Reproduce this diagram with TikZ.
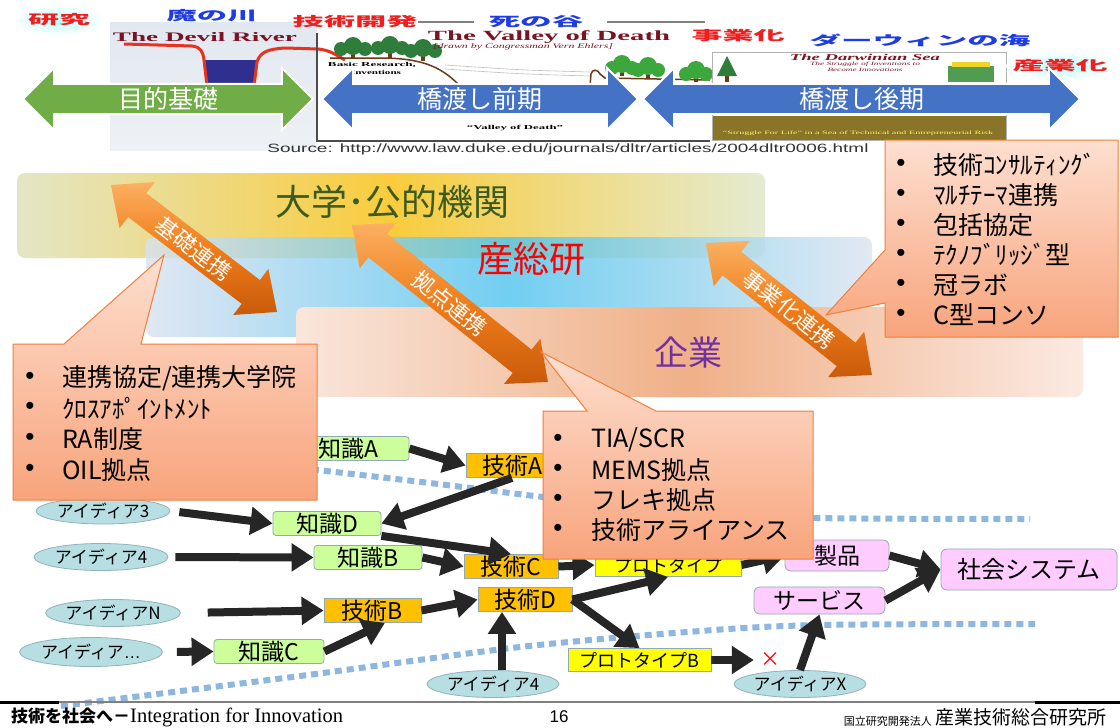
\documentclass[tikz,border=0pt]{standalone}
\usepackage{fontspec}
\usepackage{graphicx}
\setmainfont{Noto Sans CJK JP}
\newfontfamily\latinserif{Liberation Serif}
\newfontfamily\latinsans{Liberation Sans}
\usetikzlibrary{shapes.geometric,shapes.arrows,arrows.meta}

\definecolor{ideafill}{HTML}{B7DEE3}
\definecolor{ideaedge}{HTML}{8FB3BA}
\definecolor{knowfill}{HTML}{CCFF99}
\definecolor{boxedge}{HTML}{8FAAB5}
\definecolor{techfill}{HTML}{FFC000}
\definecolor{protofill}{HTML}{FFFF00}
\definecolor{goalfill}{HTML}{FFCCFF}
\definecolor{flowblack}{HTML}{262626}
\definecolor{greenarrow}{HTML}{70AD47}
\definecolor{bluearrow}{HTML}{4472C4}
\definecolor{calloutedge}{HTML}{F07F3C}
\definecolor{callouttop}{HTML}{FDDFD0}
\definecolor{calloutbottom}{HTML}{F8A47C}
\definecolor{orangelight}{HTML}{FBB062}
\definecolor{orangemid}{HTML}{F07D1A}
\definecolor{orangedark}{HTML}{C95A0A}
\definecolor{dashblue}{HTML}{8DB7DF}
\definecolor{darkred}{HTML}{7A1424}
\definecolor{wordred}{HTML}{F01E1E}
\definecolor{wordblue}{HTML}{1E3CE6}
\definecolor{treegreen}{HTML}{2E7D3A}
\definecolor{leafgreen}{HTML}{3CA83C}
\definecolor{trunk}{HTML}{6B3A1A}
\definecolor{olive}{HTML}{8A7428}
\definecolor{riverred}{HTML}{E8321E}
\definecolor{riverblue}{HTML}{2E2F8F}
\definecolor{riverbgtop}{HTML}{E2E8F0}
\definecolor{riverbgbot}{HTML}{EEF1F5}
\definecolor{uniL}{HTML}{E3E6C6}
\definecolor{uniM}{HTML}{F9CC3C}
\definecolor{uniR}{HTML}{E4EBD2}
\definecolor{aistL}{HTML}{D9E1F0}
\definecolor{aistM}{HTML}{4EC3EE}
\definecolor{aistR}{HTML}{DBE4EF}
\definecolor{firmL}{HTML}{F9E6DB}
\definecolor{firmM}{HTML}{F0B088}
\definecolor{firmR}{HTML}{FBEAE2}
\definecolor{unitext}{HTML}{3D5A1F}
\definecolor{firmtext}{HTML}{7030A0}

\newcommand{\stretchto}[2]{\resizebox{#1}{\height}{#2}}

% fat two-headed link arrow: name, centre x, centre y, angle, half length, text
\newcommand{\linkarrow}[6]{%
    \begin{scope}[shift={(#2,#3)}, rotate=#4]
        \shade[top color=orangelight, bottom color=orangedark, middle color=orangemid]
            (-#5,0) -- (-#5+33,-29) -- (-#5+33,-15) -- (#5-33,-15) -- (#5-33,-29) -- (#5,0)
            -- (#5-33,29) -- (#5-33,15) -- (-#5+33,15) -- (-#5+33,29) -- cycle;
        \node[linktext, rotate=#4] (#1) at (0,0) {#6};
    \end{scope}}

\tikzset{
    idea/.style={ellipse, draw=ideaedge, fill=ideafill, line width=0.8pt, inner sep=0pt, minimum width=134pt, minimum height=27pt, font=\fontsize{17}{17}\selectfont},
    know/.style={rectangle, rounded corners=3pt, draw=boxedge, fill=knowfill, line width=0.8pt, inner sep=0pt, minimum height=24pt, font=\fontsize{23}{23}\selectfont},
    tech/.style={rectangle, draw=boxedge, fill=techfill, line width=0.8pt, inner sep=0pt, minimum height=24pt, font=\fontsize{23}{23}\selectfont},
    proto/.style={rectangle, draw=boxedge, fill=protofill, line width=0.8pt, inner sep=0pt, minimum height=23pt, font=\fontsize{18}{18}\selectfont},
    goal/.style={rectangle, rounded corners=6pt, draw=boxedge, fill=goalfill, line width=0.8pt, inner sep=0pt, font=\fontsize{23}{23}\selectfont},
    flow/.style={draw=flowblack, line width=8pt, -{Triangle[length=22pt, width=27pt]}},
    phase/.style={double arrow, double arrow head extend=16pt, double arrow tip angle=90, draw=white, line width=2pt, text=white, inner xsep=0pt, inner ysep=2.5pt, font=\fontsize{25}{25}\selectfont},
    linktext/.style={text=white, inner sep=0pt, font=\fontsize{22}{22}\selectfont},
    callout/.style={draw=calloutedge, line width=1pt, top color=callouttop, bottom color=calloutbottom},
    dot/.style={inner sep=0pt, font=\latinsans\fontsize{26}{26}\selectfont},
    item/.style={anchor=west, inner sep=0pt, font=\fontsize{25}{25}\selectfont},
    band/.style={rounded corners=8pt},
    header/.style={inner sep=0pt, font=\bfseries\fontsize{13}{13}\selectfont},
    dashline/.style={draw=dashblue, line width=6pt, dash pattern=on 7pt off 5pt},
}

\begin{document}
\begin{tikzpicture}[x=1pt, y=-1pt]
        \useasboundingbox (0,0) rectangle (1120,728);
        \fill[white] (0,0) rectangle (1120,728);

        \shade[top color=riverbgtop, bottom color=riverbgbot] (110,22) rectangle (317,150);
        \fill[white] (317,33) rectangle (710,141);
        \fill[riverblue] (204,60) -- (256,60) -- (254,86) -- (207,86) -- cycle;
        \draw[riverred, line width=3pt, line join=round] (124,44) -- (192,46) .. controls (201,47) and (203,52) .. (204,60) -- (207,86);
        \draw[riverred, line width=3pt, line join=round] (254,86) -- (257,62) .. controls (260,52) and (268,49) .. (285,48) -- (318,49) .. controls (330,50) and (336,55) .. (345,60);
        \draw[black!70, line width=1.2pt] (317,33) -- (317,141) -- (710,141);
        \draw[trunk, line width=1.5pt] (330,58) -- (380,58) .. controls (420,58) and (440,66) .. (458,84);
        \draw[trunk, line width=1.5pt] (590,86) -- (591,74) .. controls (592,69) and (598,69) .. (600,74) -- (605,78) -- (710,80);
        \draw[gray!50, line width=0.6pt] (445,65) .. controls (520,70) .. (590,72);
        \draw[gray!50, line width=0.6pt] (445,69) .. controls (520,74) .. (590,76);
        \foreach \x/\y in {353/46, 390/45, 423/48}
        {
            \fill[trunk] (\x-2,\y) rectangle (\x+2,\y+13);
            \fill[treegreen] (\x-12,\y+3) circle (7) (\x,\y) circle (9) (\x+12,\y+3) circle (7);
        }
        \foreach \x/\y in {622/66, 648/68, 696/72}
        {
            \fill[trunk] (\x-2,\y) rectangle (\x+2,\y+10);
            \fill[leafgreen] (\x-10,\y+2) circle (7) (\x,\y-2) circle (9) (\x+10,\y+2) circle (7);
        }
        \node[font=\latinserif\bfseries\fontsize{13}{13}\selectfont, text=darkred, inner sep=0pt] (devil) at (205,37) {\stretchto{184pt}{The Devil River}};
        \node[font=\latinserif\bfseries\fontsize{14}{14}\selectfont, text=darkred, inner sep=0pt] (valley) at (549,37) {\stretchto{242pt}{The Valley of Death}};
        \node[font=\latinserif\itshape\fontsize{7}{7}\selectfont, text=darkred, inner sep=0pt] (ehlers) at (523,47) {\stretchto{180pt}{[drawn by Congressman Vern Ehlers]}};
        \node[font=\latinserif\bfseries\fontsize{6}{6}\selectfont, inner sep=0pt] (basic) at (372,65) {\stretchto{88pt}{Basic Research,}};
        \node[font=\latinserif\bfseries\fontsize{6}{6}\selectfont, inner sep=0pt] (invent) at (376,72) {\stretchto{50pt}{Inventions}};
        \node[font=\latinserif\bfseries\fontsize{6}{6}\selectfont, inner sep=0pt] (vod) at (515,128) {\stretchto{96pt}{“Valley of Death”}};

        \fill[white] (712,52) rectangle (1006,119);
        \fill[olive] (712,116) rectangle (1006,140);
        \draw[gray!60, line width=0.6pt] (712,52) rectangle (1006,140);
        \fill[trunk] (725,72) rectangle (729,82);
        \fill[treegreen] (717,76) -- (727,56) -- (737,76) -- cycle;
        \fill[leafgreen!70!gray] (948,66) rectangle (994,82);
        \fill[yellow!70!brown] (952,62) rectangle (990,67);
        \node[font=\latinserif\bfseries\itshape\fontsize{9}{9}\selectfont, text=darkred, inner sep=0pt] (darwin) at (865,57) {\stretchto{150pt}{The Darwinian Sea}};
        \node[font=\latinserif\itshape\fontsize{5}{5}\selectfont, text=darkred, inner sep=0pt] (struggle) at (865,64) {\stretchto{110pt}{The Struggle of Inventions to}};
        \node[font=\latinserif\itshape\fontsize{5}{5}\selectfont, text=darkred, inner sep=0pt] (become) at (865,70) {\stretchto{75pt}{Become Innovations}};
        \node[font=\latinserif\fontsize{5}{5}\selectfont, text=yellow!60, inner sep=0pt] (life) at (858,133) {\stretchto{270pt}{“Struggle For Life” in a Sea of Technical and Entrepreneurial Risk}};

        \shade[inner color=cyan!30, outer color=white] (59,20) ellipse (46 and 15);
        \shade[inner color=cyan!30, outer color=white] (1060,66) ellipse (54 and 15);
        \node[header, text=wordred] (kenkyu) at (59,20) {\stretchto{62pt}{研究}};
        \node[header, text=wordblue] (mano) at (212,16) {\stretchto{91pt}{魔の川}};
        \node[header, text=wordred] (kaihatsu) at (355,22) {\stretchto{125pt}{技術開発}};
        \node[header, text=wordblue] (shino) at (536,22) {\stretchto{95pt}{死の谷}};
        \node[header, text=wordred] (jigyo) at (738,36) {\stretchto{93pt}{事業化}};
        \node[header, text=wordblue] (darwinsea) at (920,40) {\stretchto{221pt}{ダーウィンの海}};
        \node[header, text=wordred] (sangyo) at (1060,66) {\stretchto{95pt}{産業化}};
        \draw[gray, line width=1.2pt] (kaihatsu.east) -- (474,22);
        \draw[gray, line width=1.2pt] (607,22) -- (705,22);

        \node[phase, fill=greenarrow, minimum height=290pt] (mokuteki) at (168,99) {目的基礎};
        \node[phase, fill=bluearrow, minimum height=316pt] (zenki) at (480,99) {橋渡し前期};
        \node[phase, fill=bluearrow, minimum height=437pt] (koki) at (861.5,99) {橋渡し後期};

        \node[font=\latinsans\fontsize{12}{12}\selectfont, text=black!80, inner sep=0pt] (source) at (568,149) {\stretchto{601pt}{Source: http://www.law.duke.edu/journals/dltr/articles/2004dltr0006.html}};

        \shade[band, left color=uniL, right color=uniR, middle color=uniM] (17,173) rectangle (765,258);
        \shade[band, left color=aistL, right color=aistR, middle color=aistM, opacity=0.8] (146,237) rectangle (872,337);
        \shade[band, left color=firmL, right color=firmR, middle color=firmM] (296,307) rectangle (1083,397);
        \node[text=unitext, font=\fontsize{36}{36}\selectfont] (daigaku) at (392,202) {大学･公的機関};
        \node[text=red, font=\fontsize{36}{36}\selectfont] (sanso) at (531,259) {産総研};
        \node[text=firmtext, font=\fontsize{34}{34}\selectfont] (kigyo) at (688,353) {企業};

        \linkarrow{kiso}{194}{248.5}{-37.4}{104.5}{基礎連携}
        \linkarrow{kyoten}{450}{303.5}{-38.7}{125.5}{拠点連携}
        \linkarrow{jigyoka}{789}{309}{-38.5}{106}{事業化連携}

        \draw[dashline] plot[smooth] coordinates {(300,468) (430,483) (543,497) (680,512) (815,518) (1030,519)};
        \draw[dashline] plot[smooth] coordinates {(61,706) (300,676) (520,647) (700,631) (820,625) (1035,624)};

        \node[know, minimum width=122pt] (kA) at (348,448.5) {知識A};
        \node[tech, minimum width=92pt] (gA) at (512,465.5) {技術A};
        \node[know, minimum width=108pt] (kD) at (327,523.5) {知識D};
        \node[know, minimum width=108pt] (kB) at (368,557.5) {知識B};
        \node[tech, minimum width=94pt] (gC) at (511,566.5) {技術C};
        \node[tech, minimum width=94pt] (gD) at (525,599.5) {技術D};
        \node[tech, minimum width=97pt] (gB) at (372.5,610.5) {技術B};
        \node[know, minimum width=110pt] (kC) at (269,651.5) {知識C};
        \node[proto, minimum width=146pt] (pr) at (668,565) {プロトタイプ};
        \node[proto, minimum width=143pt] (prB) at (639.5,660) {プロトタイプB};
        \node[goal, minimum width=104pt, minimum height=31pt] (seihin) at (837,555.5) {製品\hspace{26pt}};
        \node[goal, minimum width=131pt, minimum height=27pt] (service) at (819.5,600.5) {サービス};
        \node[goal, minimum width=176pt, minimum height=41pt, font=\fontsize{24}{24}\selectfont] (shakai) at (1029,569.5) {社会システム};
        \node[idea, minimum height=26pt] (i3) at (103,511) {アイディア3};
        \node[idea] (i4) at (101,557) {アイディア4};
        \node[idea] (iN) at (113,613) {アイディアN};
        \node[idea, minimum width=143pt, minimum height=29pt] (idots) at (91,652) {アイディア{\latinsans …}};
        \node[idea, minimum width=132pt] (i4b) at (493,684) {アイディア4};
        \node[idea, minimum width=132pt] (iX) at (800,684) {アイディアX};
        \node[text=red, inner sep=0pt, font=\fontsize{20}{20}\selectfont] (batsu) at (770,660) {×};

        \draw[flow] (kA.east) -- (gA.west);
        \draw[flow] (gA.south) -- (kD.east);
        \draw[flow, shorten <=9pt] (i3.east) -- (kD.west);
        \draw[flow] (kD.south east) -- (gC.north);
        \draw[flow, shorten <=7pt] (i4.east) -- (kB.west);
        \draw[flow] (kB.east) -- (gC.west);
        \draw[flow] (gC.east) -- (pr.west);
        \draw[flow] (pr.east) -- (seihin.west);
        \draw[flow, shorten <=27pt] (iN.east) -- (gB.west);
        \draw[flow] (gB.east) -- (gD.west);
        \draw[flow, shorten <=14pt] (idots.east) -- (kC.west);
        \draw[flow] (kC.east) -- (gB.-45);
        \draw[flow] ([xshift=9pt]i4b.north) -- ([xshift=-23pt]gD.south);
        \draw[flow] (gD.east) -- (pr.south);
        \draw[flow] (gD.east) -- (prB.north);
        \draw[flow, shorten >=6pt] (prB.east) -- (batsu.west);
        \draw[flow] (iX.north) -- (service.south);
        \draw[flow] (seihin.east) -- (shakai.west);
        \draw[flow] (service.east) -- (shakai.west);

        \shade[callout] (13,344) -- (64,344) -- (164,255) -- (141,344) -- (317,344) -- (317,500) -- (13,500) -- cycle;
        \foreach \txt [count=\i] in {連携協定/連携大学院, ｸﾛｽｱﾎﾟｲﾝﾄﾒﾝﾄ, RA制度, OIL拠点}
        {
            \node[dot] (kisodot\i) at (30,347.3+30.7*\i) {•};
            \node[item] (kisoitem\i) at (62,347.3+30.7*\i) {\txt};
        }

        \shade[callout] (543,411) -- (587,411) -- (541,352) -- (656,411) -- (813,411) -- (813,559) -- (543,559) -- cycle;
        \foreach \txt [count=\i] in {TIA/SCR, MEMS拠点, フレキ拠点, 技術アライアンス}
        {
            \node[dot] (kyotendot\i) at (558,410+30*\i) {•};
            \node[item] (kyotenitem\i) at (591,410+30*\i) {\txt};
        }

        \shade[callout] (885,140) -- (1118,140) -- (1118,337) -- (885,337) -- (885,303) -- (826,315) -- (885,250) -- cycle;
        \foreach \txt [count=\i] in {技術ｺﾝｻﾙﾃｨﾝｸﾞ, ﾏﾙﾁﾃｰﾏ連携, 包括協定, ﾃｸﾉﾌﾞﾘｯｼﾞ型, 冠ラボ, C型コンソ}
        {
            \node[dot] (jigyodot\i) at (901,135+30*\i) {•};
            \node[item] (jigyoitem\i) at (933,135+30*\i) {\txt};
        }

        \draw[gray, line width=1.5pt] (59,702) -- (1035,702);
        \draw[black, line width=3pt] (0,702) -- (59,702);
        \draw[black, line width=3pt] (1035,702) -- (1120,702);
        \node[anchor=west, inner sep=0pt, font=\fontsize{17}{17}\selectfont] (slogan) at (11,717) {{\bfseries 技術を社会へ－}{\latinserif\fontsize{20.5}{20.5}\selectfont Integration for Innovation}};
        \node[inner sep=0pt, font=\latinsans\fontsize{17}{17}\selectfont] (pageno) at (559,717) {16};
        \node[anchor=east, inner sep=0pt, font=\fontsize{11}{11}\selectfont] (hojin) at (932,721) {国立研究開発法人};
        \node[anchor=west, inner sep=0pt, font=\fontsize{19}{19}\selectfont] (aist) at (935,717) {産業技術総合研究所};
\end{tikzpicture}
\end{document}
